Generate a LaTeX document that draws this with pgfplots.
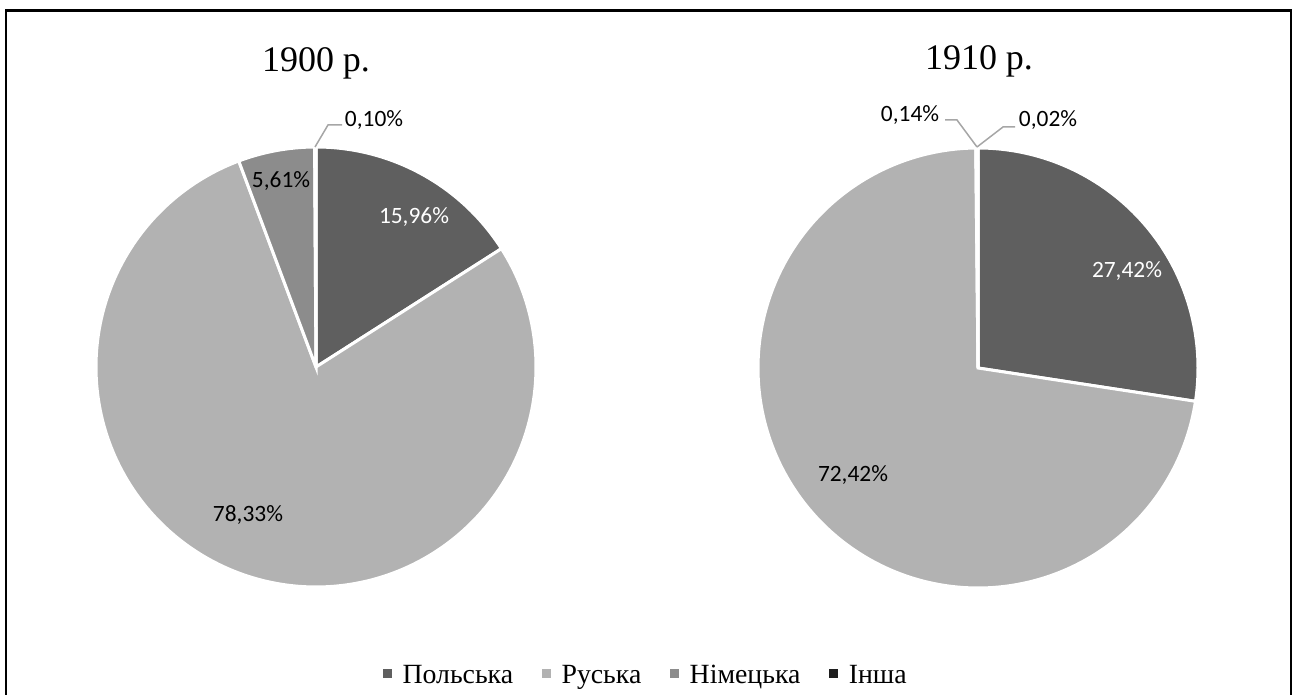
\documentclass[border=0pt]{standalone}
\usepackage{pgfplots}
\pgfplotsset{compat=1.18}
\usepackage{fontspec}
\setmainfont{Liberation Serif}
\newfontfamily\lblfont{Carlito}
\definecolor{cP}{HTML}{5F5F5F}
\definecolor{cR}{HTML}{B2B2B2}
\definecolor{cN}{HTML}{8C8C8C}
\definecolor{cI}{HTML}{1E1E1E}
\definecolor{cL}{HTML}{A6A6A6}
\tikzset{
  slice/.style={draw=white, line width=1.5pt},
  lbl/.style={font=\lblfont\fontsize{11.7}{13}\selectfont, anchor=base, inner sep=0pt},
  ttl/.style={font=\fontsize{18}{20}\selectfont, anchor=base, inner sep=0pt},
}
\begin{document}
\begin{tikzpicture}
\begin{axis}[
  at={(0,0)}, anchor=south west,
  x=0.5pt, y=0.5pt,
  xmin=0, xmax=1297, ymin=0, ymax=695,
  hide axis, clip=false,
  legend columns=4,
  legend image code/.code={\fill (0pt,-1pt) rectangle (4.2pt,3.2pt);},
  legend style={draw=none, fill=none, at={(0.4988,0.028)}, anchor=center,
    font=\fontsize{13.9}{15}\selectfont, inner sep=0pt,
    /tikz/every odd column/.append style={column sep=3.5pt},
    /tikz/every even column/.append style={column sep=12.5pt}},
]
% ---- 1900: Польська 15.96, Руська 78.33, Німецька 5.61, Інша 0.10
\addplot[slice, forget plot, fill=cP, domain=0:3.6*15.96, samples=60]
  ({316+220*sin(x)}, {328+220*cos(x)}) -- (axis cs:316,328) -- cycle;
\addplot[slice, forget plot, fill=cR, domain=3.6*15.96:3.6*(15.96+78.33), samples=200]
  ({316+220*sin(x)}, {328+220*cos(x)}) -- (axis cs:316,328) -- cycle;
\addplot[slice, forget plot, fill=cN, domain=3.6*(15.96+78.33):3.6*(15.96+78.33+5.61), samples=20]
  ({316+220*sin(x)}, {328+220*cos(x)}) -- (axis cs:316,328) -- cycle;
\addplot[slice, forget plot, fill=cI, domain=3.6*(15.96+78.33+5.61):3.6*(15.96+78.33+5.61+0.10), samples=2]
  ({316+220*sin(x)}, {328+220*cos(x)}) -- (axis cs:316,328) -- cycle;
% ---- 1910: Польська 27.42, Руська 72.42, Німецька 0.14, Інша 0.02
\addplot[slice, forget plot, fill=cP, domain=0:3.6*27.42, samples=80]
  ({978+220*sin(x)}, {327+220*cos(x)}) -- (axis cs:978,327) -- cycle;
\addplot[slice, forget plot, fill=cR, domain=3.6*27.42:3.6*(27.42+72.42), samples=200]
  ({978+220*sin(x)}, {327+220*cos(x)}) -- (axis cs:978,327) -- cycle;
\addplot[slice, forget plot, fill=cN, domain=3.6*(27.42+72.42):3.6*(27.42+72.42+0.14), samples=2]
  ({978+220*sin(x)}, {327+220*cos(x)}) -- (axis cs:978,327) -- cycle;
\addplot[slice, forget plot, fill=cI, domain=3.6*(27.42+72.42+0.14):3.6*(27.42+72.42+0.14+0.02), samples=2]
  ({978+220*sin(x)}, {327+220*cos(x)}) -- (axis cs:978,327) -- cycle;
% leader lines
\addplot[cL, line width=0.75pt, forget plot] coordinates {(315,548) (328,570) (342,570)};
\addplot[cL, line width=0.75pt, forget plot] coordinates {(945,575) (957,575) (977,548)};
\addplot[cL, line width=0.75pt, forget plot] coordinates {(977,548) (1003,568) (1015,568)};
% legend
\addlegendimage{draw=none, fill=cP}\addlegendentry{Польська}
\addlegendimage{draw=none, fill=cR}\addlegendentry{Руська}
\addlegendimage{draw=none, fill=cN}\addlegendentry{Німецька}
\addlegendimage{draw=none, fill=cI}\addlegendentry{Інша}
% labels
\node[lbl, text=white] at (axis cs:414,471) {15,96\%};
\node[lbl] at (axis cs:248,173) {78,33\%};
\node[lbl] at (axis cs:281,507) {5,61\%};
\node[lbl] at (axis cs:374,568) {0,10\%};
\node[lbl, text=white] at (axis cs:1127,417) {27,42\%};
\node[lbl] at (axis cs:853,213) {72,42\%};
\node[lbl] at (axis cs:910,573) {0,14\%};
\node[lbl] at (axis cs:1048,568) {0,02\%};
\node[ttl] at (axis cs:316,623) {1900 р.};
\node[ttl] at (axis cs:979,625) {1910 р.};
\draw[line width=1.2pt] (axis cs:6,-10) rectangle (axis cs:1291,684.5);
\end{axis}
\pgfresetboundingbox
\path[use as bounding box] (0,0) rectangle (648.5pt,347.5pt);
\end{tikzpicture}
\end{document}
